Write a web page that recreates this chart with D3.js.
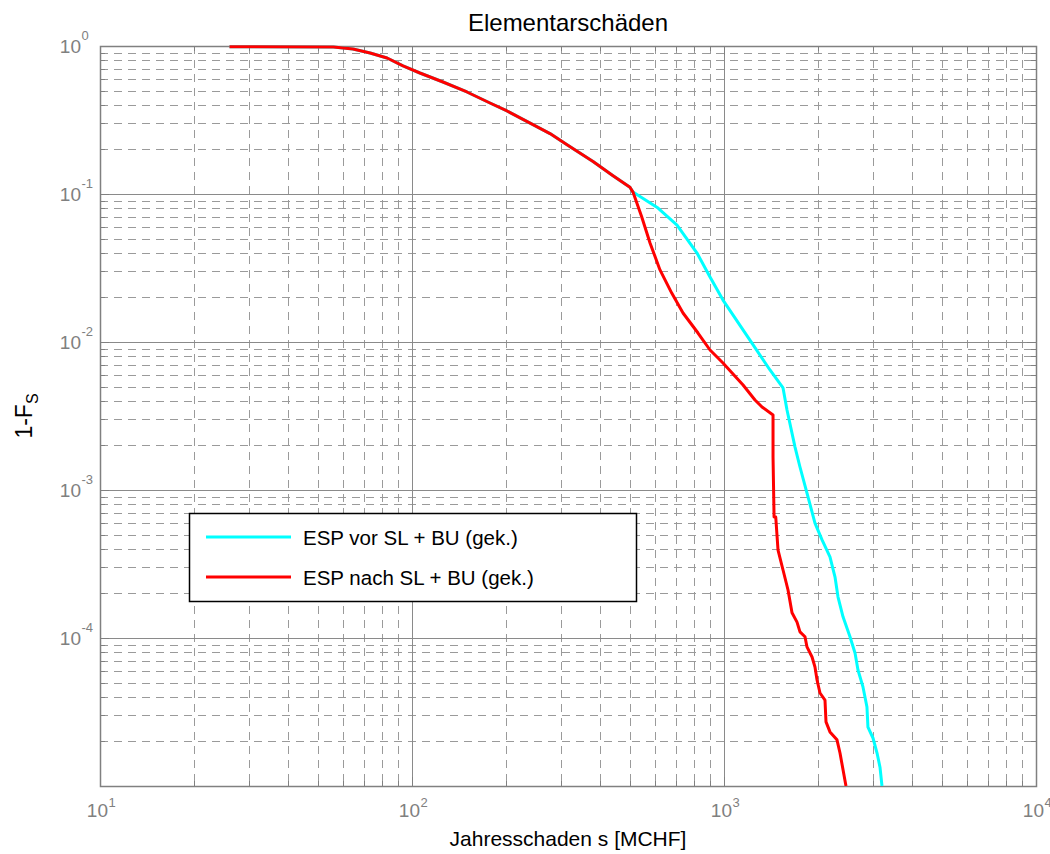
<!DOCTYPE html>
<html>
<head>
<meta charset="utf-8">
<script src="https://cdn.jsdelivr.net/npm/d3@7"></script>
<style>
  html, body { margin: 0; padding: 0; background: #fff; }
  svg { display: block; font-family: "Liberation Sans", Arial, sans-serif; }
</style>
</head>
<body>
<svg id="chart" width="1050" height="854"></svg>
<script>
// Exceedance curve 1-F_S of the annual loss s (MCHF), log-log axes
const titleText = "Elementarschäden";
const xLabelText = "Jahresschaden s [MCHF]";
const seriesNames = ["ESP vor SL + BU (gek.)", "ESP nach SL + BU (gek.)"];
const seriesColors = ["#00ffff", "#ff0000"];

const xTickExponents = [1, 2, 3, 4];
const yTickExponents = [0, -1, -2, -3, -4];

// Common part of both curves (up to the split near 510 MCHF)
const sharedS = [26, 56, 64.7, 73.4, 83.2, 93.6, 106, 125.7, 150, 177.8, 201.6, 244.2, 276.9, 314, 380.4, 440.9, 499.6, 510.8];
const sharedP = [0.988, 0.985, 0.954, 0.897, 0.83, 0.733, 0.657, 0.571, 0.489, 0.412, 0.364, 0.294, 0.256, 0.215, 0.166, 0.133, 0.111, 0.103];

// Tail before SL + BU
const vorS = [614.5, 707, 819.5, 902, 992.6, 1211, 1404, 1546, 1592, 1689, 1752, 1845, 1957, 2062, 2186, 2269, 2320, 2407, 2534, 2630, 2688, 2789, 2872, 2893, 3003, 3094, 3162, 3209];
const vorP = [0.0804, 0.0617, 0.0399, 0.0275, 0.0192, 0.0103, 0.00647, 0.00489, 0.00347, 0.00195, 0.00143, 0.000954, 0.000598, 0.000460, 0.000353, 0.000258, 0.000189, 0.000139, 0.000102, 7.92e-5, 6.08e-5, 4.67e-5, 3.42e-5, 2.50e-5, 2.11e-5, 1.67e-5, 1.34e-5, 1.0e-5];

// Tail after SL + BU
const nachS = [544.7, 579.3, 623.5, 679.9, 739, 825.4, 902, 992.6, 1151, 1257, 1324, 1436, 1436, 1447, 1465, 1490, 1546, 1604, 1652, 1714, 1752, 1818, 1845, 1915, 1957, 1987, 2031, 2107, 2123, 2186, 2302, 2354, 2460];
const nachP = [0.0702, 0.0467, 0.0307, 0.0214, 0.0157, 0.0115, 0.00883, 0.00721, 0.00512, 0.00406, 0.00364, 0.00321, 0.00167, 0.000657, 0.000657, 0.000393, 0.000288, 0.000211, 0.000148, 0.000128, 0.000110, 0.000102, 8.70e-5, 7.44e-5, 6.37e-5, 5.20e-5, 4.25e-5, 3.81e-5, 2.71e-5, 2.32e-5, 2.05e-5, 1.67e-5, 1.0e-5];

const plot = { left: 100, right: 1036, top: 46, bottom: 786 };
const axisGray = "#808080";
const gridGray = "#9a9a9a";
const tickFont = 19, supFont = 13;

const svg = d3.select("#chart");

const x = d3.scaleLog().domain([10, 10000]).range([plot.left, plot.right]);
const y = d3.scaleLog().domain([1e-5, 1]).range([plot.bottom, plot.top]);

const isMajor = v => Math.abs(Math.log10(v) - Math.round(Math.log10(v))) < 1e-9;

// Grid: dashed minor lines, solid decade lines
const grid = svg.append("g");
const xTicksAll = x.ticks();
const yTicksAll = y.ticks();

grid.selectAll("line.xminor")
  .data(xTicksAll.filter(v => !isMajor(v)))
  .join("line")
  .attr("x1", d => Math.round(x(d)) + 0.5).attr("x2", d => Math.round(x(d)) + 0.5)
  .attr("y1", plot.top).attr("y2", plot.bottom)
  .attr("stroke", gridGray).attr("stroke-width", 1).attr("stroke-dasharray", "8,6");

grid.selectAll("line.yminor")
  .data(yTicksAll.filter(v => !isMajor(v)))
  .join("line")
  .attr("y1", d => Math.round(y(d)) + 0.5).attr("y2", d => Math.round(y(d)) + 0.5)
  .attr("x1", plot.left).attr("x2", plot.right)
  .attr("stroke", gridGray).attr("stroke-width", 1).attr("stroke-dasharray", "8,6");

grid.selectAll("line.xmajor")
  .data(xTicksAll.filter(v => isMajor(v) && v > 10 && v < 10000))
  .join("line")
  .attr("x1", d => Math.round(x(d)) + 0.5).attr("x2", d => Math.round(x(d)) + 0.5)
  .attr("y1", plot.top).attr("y2", plot.bottom)
  .attr("stroke", "#8a8a8a").attr("stroke-width", 1);

grid.selectAll("line.ymajor")
  .data(yTicksAll.filter(v => isMajor(v) && v > 1e-5 && v < 1))
  .join("line")
  .attr("y1", d => Math.round(y(d)) + 0.5).attr("y2", d => Math.round(y(d)) + 0.5)
  .attr("x1", plot.left).attr("x2", plot.right)
  .attr("stroke", "#8a8a8a").attr("stroke-width", 1);

// Inward tick marks on all four sides
const ticksG = svg.append("g").attr("stroke", axisGray).attr("stroke-width", 1);
xTicksAll.forEach(v => {
  const len = isMajor(v) ? 9 : 5;
  const px = Math.round(x(v)) + 0.5;
  ticksG.append("line").attr("x1", px).attr("x2", px).attr("y1", plot.bottom).attr("y2", plot.bottom - len);
  ticksG.append("line").attr("x1", px).attr("x2", px).attr("y1", plot.top).attr("y2", plot.top + len);
});
yTicksAll.forEach(v => {
  const len = isMajor(v) ? 9 : 5;
  const py = Math.round(y(v)) + 0.5;
  ticksG.append("line").attr("y1", py).attr("y2", py).attr("x1", plot.left).attr("x2", plot.left + len);
  ticksG.append("line").attr("y1", py).attr("y2", py).attr("x1", plot.right).attr("x2", plot.right - len);
});

// Axes box
svg.append("rect")
  .attr("x", plot.left + 0.5).attr("y", plot.top + 0.5)
  .attr("width", plot.right - plot.left).attr("height", plot.bottom - plot.top)
  .attr("fill", "none").attr("stroke", axisGray).attr("stroke-width", 1.5);

// Curves
svg.append("defs").append("clipPath").attr("id", "plotClip")
  .append("rect")
  .attr("x", plot.left).attr("y", plot.top - 3)
  .attr("width", plot.right - plot.left).attr("height", plot.bottom - plot.top + 3);

const makeSeries = (s, p) => s.map((v, i) => ({ s: v, p: p[i] }));
const vorData = makeSeries(sharedS.concat(vorS), sharedP.concat(vorP));
const nachData = makeSeries(sharedS.concat(nachS), sharedP.concat(nachP));

const line = d3.line().x(d => x(d.s)).y(d => y(d.p));
const curves = svg.append("g").attr("clip-path", "url(#plotClip)");
[vorData, nachData].forEach((data, i) => {
  curves.append("path")
    .datum(data)
    .attr("d", line)
    .attr("fill", "none")
    .attr("stroke", seriesColors[i])
    .attr("stroke-width", 3)
    .attr("stroke-linejoin", "round");
});

// Tick labels: 10 with superscript exponent
const labels = svg.append("g").attr("fill", axisGray);
xTickExponents.forEach(e => {
  const px = x(Math.pow(10, e));
  labels.append("text").attr("x", px + 8).attr("y", 817)
    .attr("text-anchor", "end").attr("font-size", tickFont).text("10");
  labels.append("text").attr("x", px + 8.5).attr("y", 807)
    .attr("font-size", supFont).text(String(e));
});
yTickExponents.forEach(e => {
  const py = y(Math.pow(10, e));
  labels.append("text").attr("x", 81).attr("y", py + 7)
    .attr("text-anchor", "end").attr("font-size", tickFont).text("10");
  labels.append("text").attr("x", 81.5).attr("y", py - 6)
    .attr("font-size", supFont).text(String(e));
});

// Title and axis labels
svg.append("text")
  .attr("x", (plot.left + plot.right) / 2).attr("y", 31)
  .attr("text-anchor", "middle").attr("font-size", 24).attr("fill", "#000")
  .text(titleText);

svg.append("text")
  .attr("x", (plot.left + plot.right) / 2).attr("y", 846)
  .attr("text-anchor", "middle").attr("font-size", 21).attr("fill", "#000")
  .text(xLabelText);

const yLab = svg.append("text")
  .attr("transform", `translate(32, ${(plot.top + plot.bottom) / 2}) rotate(-90)`)
  .attr("text-anchor", "middle").attr("font-size", 23).attr("fill", "#000");
yLab.append("tspan").text("1-F");
yLab.append("tspan").attr("font-size", 16).attr("dy", 6).text("S");

// Legend
const legend = svg.append("g");
legend.append("rect")
  .attr("x", 189.5).attr("y", 513.5).attr("width", 447).attr("height", 88)
  .attr("fill", "#fff").attr("stroke", "#000").attr("stroke-width", 1.5);
seriesNames.forEach((name, i) => {
  const ly = 537 + i * 40;
  legend.append("line")
    .attr("x1", 206).attr("x2", 291).attr("y1", ly).attr("y2", ly)
    .attr("stroke", seriesColors[i]).attr("stroke-width", 3);
  legend.append("text")
    .attr("x", 303).attr("y", ly + 7.5)
    .attr("font-size", 20.5).attr("fill", "#000")
    .text(name);
});
</script>
</body>
</html>
